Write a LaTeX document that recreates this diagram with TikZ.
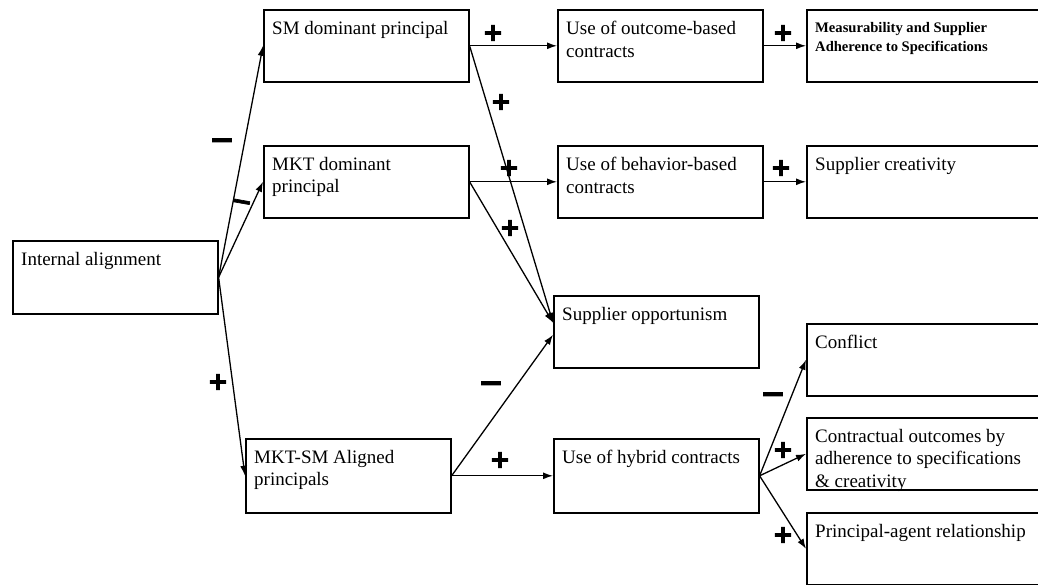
\documentclass[tikz,border=0pt]{standalone}
\usepackage{fontspec}
\setmainfont{Liberation Serif}
\newfontfamily\signfont{DejaVu Sans}[BoldFeatures={FakeBold=2.5}]
\usetikzlibrary{arrows.meta}
\begin{document}
\begin{tikzpicture}[x=1pt, y=-1pt,
    box/.style={draw, line width=1.6pt, anchor=north west, minimum width=205pt, minimum height=72pt, inner sep=0pt},
    wide/.style={box, minimum width=260pt},
    txt/.style={anchor=north west, xshift=9pt, yshift=-12pt, inner sep=0pt, align=left, font={\fontsize{19}{22.5}\selectfont}},
    small/.style={txt, yshift=-1pt, font={\bfseries\fontsize{14.6}{19}\selectfont}},
    link/.style={line width=1.3pt, -{Latex[length=10pt,width=7pt]}},
    sign/.style={font={\signfont\bfseries\fontsize{25}{25}\selectfont}, inner sep=0pt},
    neg/.style={sign, font={\signfont\bfseries\fontsize{30}{30}\selectfont}}
]
    % Fix the page to the reference size
    \clip (0,0) rectangle (1038,585);

    % Left and middle boxes
    \node[box, minimum height=73pt, label={[txt]north west:Internal alignment}] (ia) at (12,240) {};
    \node[box, label={[txt]north west:SM dominant principal}] (sm) at (263,9) {};
    \node[box, label={[txt]north west:{MKT dominant\\principal}}] (mkt) at (263,145) {};
    \node[box, minimum height=74pt, label={[txt]north west:{MKT-SM Aligned\\principals}}] (al) at (245,438) {};

    % Contract boxes
    \node[box, label={[txt]north west:{Use of outcome-based\\contracts}}] (oc) at (557,9) {};
    \node[box, label={[txt]north west:{Use of behavior-based\\contracts}}] (bc) at (557,145) {};
    \node[box, label={[txt]north west:Supplier opportunism}] (so) at (553,295) {};
    \node[box, minimum height=74pt, label={[txt]north west:Use of hybrid contracts}] (hy) at (553,438) {};

    % Outcome boxes (cut off at the right edge)
    \node[wide, label={[small]north west:{Measurability and Supplier\\Adherence to Specifications}}] (ms) at (806,9) {};
    \node[wide, label={[txt]north west:Supplier creativity}] (cr) at (806,145) {};
    \node[wide, label={[txt]north west:Conflict}] (cf) at (806,323) {};
    \node[wide, label={[txt]north west:{Contractual outcomes by\\adherence to specifications\\\& creativity}}] (co) at (806,417) {};
    \node[wide, label={[txt]north west:Principal-agent relationship}] (pa) at (806,512) {};

    % Connectors
    \draw[link] (ia.east) -- (sm.west);
    \draw[link] (ia.east) -- (mkt.west);
    \draw[link] (ia.east) -- (al.west);
    \draw[link] (sm.east) -- (oc.west);
    \draw[link] (sm.east) -- ([yshift=9pt]so.west);
    \draw[link] (mkt.east) -- (bc.west);
    \draw[link] (mkt.east) -- ([yshift=9pt]so.west);
    \draw[link] (al.east) -- ([yshift=-3pt]so.west);
    \draw[link] (al.east) -- (hy.west);
    \draw[link] (oc.east) -- (ms.west);
    \draw[link] (bc.east) -- (cr.west);
    \draw[link] (hy.east) -- (cf.west);
    \draw[link] (hy.east) -- (co.west);
    \draw[link] (hy.east) -- (pa.west);

    % Signs on the connectors
    \foreach \x/\y [count=\k] in {218/382, 493/33, 501/102, 509/168, 510/228, 500/460, 783/33, 781/168, 783/450, 783/535} {
        \node[sign] (plus\k) at (\x,\y) {+};
    }
    \foreach \x/\y [count=\k] in {222/144, 491/387, 773/398} {
        \node[neg] (minus\k) at (\x,\y) {−};
    }
    \node[neg, rotate=-10, font={\signfont\bfseries\fontsize{26}{26}\selectfont}] (minus4) at (241,205) {−};
\end{tikzpicture}
\end{document}
